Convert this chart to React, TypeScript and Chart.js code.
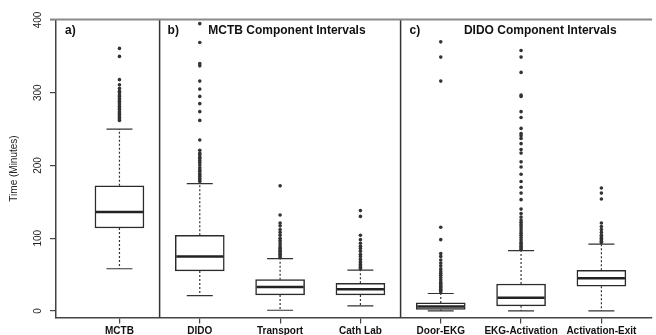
import React, { useEffect, useRef } from 'react';
import { Chart, registerables } from 'chart.js';

Chart.register(...registerables);

const categories = ['MCTB', 'DIDO', 'Transport', 'Cath Lab', 'Door-EKG', 'EKG-Activation', 'Activation-Exit'];
const whiskerLow = [58, 21, 1, 7, 0, 0, 0];
const q1 = [114, 55, 22, 22, 2, 7, 34];
const median = [136, 75, 33, 30, 6, 18, 45];
const q3 = [172, 104, 43, 38, 11, 37, 56];
const whiskerHigh = [250, 175, 72, 56, 24, 83, 92];

const outliersMCTB = [262, 264, 266, 268, 270, 272, 274, 277, 279, 281, 283, 286, 288, 290, 292, 295, 297, 300, 302, 306, 311, 318, 350, 361];
const outliersDIDO = [178, 180, 182, 185, 187, 189, 192, 194, 197, 201, 204, 207, 210, 212, 215, 217, 221, 235, 262, 274, 285, 295, 305, 316, 337, 340, 369, 395];
const outliersTransport = [74, 76, 78, 80, 82, 84, 86, 88, 91, 94, 97, 100, 104, 108, 112, 117, 121, 132, 172];
const outliersCathLab = [58, 60, 62, 64, 66, 68, 71, 75, 78, 82, 86, 89, 93, 98, 104, 130, 138];
const outliersDoorEKG = [26, 28, 30, 32, 34, 36, 38, 40, 43, 46, 49, 52, 55, 58, 62, 66, 70, 75, 79, 98, 115, 316, 349, 370];
const outliersEKGAct = [85, 87, 89, 91, 93, 95, 98, 101, 104, 107, 110, 113, 116, 119, 122, 125, 129, 134, 140, 153, 162, 170, 178, 188, 198, 205, 217, 222, 230, 237, 241, 244, 251, 266, 274, 295, 297, 328, 349, 358];
const outliersActExit = [94, 96, 98, 100, 102, 104, 108, 112, 116, 121, 154, 162, 169];
const outliers = [outliersMCTB, outliersDIDO, outliersTransport, outliersCathLab, outliersDoorEKG, outliersEKGAct, outliersActExit];

const yTicks = [0, 100, 200, 300, 400];
const yTitle = 'Time (Minutes)';
const panelLabels = ['a)', 'b)', 'c)'];
const panelTitles = ['', 'MCTB Component Intervals', 'DIDO Component Intervals'];
const dividers = [1.5, 4.5];

const FONT = "'Liberation Sans', Arial, sans-serif";

export default function App() {
  const ref = useRef<HTMLCanvasElement>(null);

  useEffect(() => {
    const canvas = ref.current;
    if (!canvas) return;
    const BOX_W = 49;
    const CAP_HALF = 13;
    const panelStarts = [0.21, dividers[0], dividers[1]];
    const labelOffsets = [9, 8, 9];
    const titleCenters = [0, 3.085, 6.239];

    const boxPlugin = {
      id: 'boxExtras',
      afterDatasetsDraw(chart: any) {
        const { ctx, chartArea, scales } = chart;
        const x = scales.x;
        const y = scales.y;
        ctx.save();
        categories.forEach((_, i) => {
          const px = x.getPixelForValue(i + 1);
          ctx.strokeStyle = '#333';
          ctx.lineWidth = 1.2;
          ctx.setLineDash([2, 2]);
          ctx.beginPath();
          ctx.moveTo(px, y.getPixelForValue(q3[i]));
          ctx.lineTo(px, y.getPixelForValue(whiskerHigh[i]));
          ctx.moveTo(px, y.getPixelForValue(q1[i]));
          ctx.lineTo(px, y.getPixelForValue(whiskerLow[i]));
          ctx.stroke();
          ctx.setLineDash([]);
          ctx.beginPath();
          const yh = y.getPixelForValue(whiskerHigh[i]);
          const yl = y.getPixelForValue(whiskerLow[i]);
          ctx.moveTo(px - CAP_HALF, yh);
          ctx.lineTo(px + CAP_HALF, yh);
          ctx.moveTo(px - CAP_HALF, yl);
          ctx.lineTo(px + CAP_HALF, yl);
          ctx.stroke();
          const ym = y.getPixelForValue(median[i]);
          ctx.strokeStyle = '#222';
          ctx.lineWidth = 2.5;
          ctx.beginPath();
          ctx.moveTo(px - BOX_W / 2 + 1, ym);
          ctx.lineTo(px + BOX_W / 2 - 1, ym);
          ctx.stroke();
        });
        // dividers
        ctx.strokeStyle = '#333';
        ctx.lineWidth = 1.5;
        dividers.forEach((d) => {
          const dx = x.getPixelForValue(d);
          ctx.beginPath();
          ctx.moveTo(dx, chartArea.top);
          ctx.lineTo(dx, chartArea.bottom);
          ctx.stroke();
        });
        // top border
        ctx.strokeStyle = '#8a8a8a';
        ctx.lineWidth = 2;
        ctx.beginPath();
        ctx.moveTo(chartArea.left - 6, chartArea.top);
        ctx.lineTo(chartArea.right, chartArea.top);
        ctx.stroke();
        // panel labels and titles
        ctx.fillStyle = '#111';
        ctx.font = `bold 12px ${FONT}`;
        ctx.textBaseline = 'middle';
        panelLabels.forEach((lab, k) => {
          ctx.textAlign = 'left';
          ctx.fillText(lab, x.getPixelForValue(panelStarts[k]) + labelOffsets[k], chartArea.top + 11);
          if (panelTitles[k]) {
            ctx.textAlign = 'center';
            ctx.fillText(panelTitles[k], x.getPixelForValue(titleCenters[k]), chartArea.top + 11);
          }
        });
        ctx.restore();
      },
    };

    const outlierPoints: { x: number; y: number }[] = [];
    outliers.forEach((arr, i) => arr.forEach((v) => outlierPoints.push({ x: i + 1, y: v })));

    const chart = new Chart(canvas, {
      type: 'bar',
      data: {
        datasets: [
          {
            type: 'bar',
            data: categories.map((_, i) => ({ x: i + 1, y: [q1[i], q3[i]] })) as any,
            backgroundColor: '#ffffff',
            borderColor: '#2b2b2b',
            borderWidth: 1.5,
            borderSkipped: false,
            barThickness: BOX_W,
          } as any,
          {
            type: 'scatter',
            data: outlierPoints,
            pointRadius: 1.8,
            pointBackgroundColor: '#333',
            pointBorderColor: '#333',
            pointBorderWidth: 0,
          } as any,
        ],
      },
      options: {
        responsive: false,
        animation: false,
        events: [],
        layout: { padding: { top: 19.5, right: 0, left: 0, bottom: 0 } },
        plugins: { legend: { display: false }, tooltip: { enabled: false } },
        scales: {
          x: {
            type: 'linear',
            min: 0.21,
            max: 7.63,
            offset: false,
            afterBuildTicks: (s: any) => {
              s.ticks = categories.map((_, i) => ({ value: i + 1 }));
            },
            afterFit: (s: any) => {
              s.height = 17.5;
            },
            ticks: {
              autoSkip: false,
              maxRotation: 0,
              minRotation: 0,
              padding: 2,
              color: '#111',
              font: { family: FONT, size: 10, weight: 'bold' },
              callback: (v: any) => categories[Math.round(v) - 1] ?? '',
            },
            grid: { display: true, offset: false, drawOnChartArea: false, drawTicks: true, tickLength: 6, color: '#444', lineWidth: 1.2 },
            border: { display: true, color: '#444', width: 1.5 },
          },
          y: {
            type: 'linear',
            min: -9,
            max: 400.7,
            afterBuildTicks: (s: any) => {
              s.ticks = yTicks.map((v) => ({ value: v }));
            },
            afterFit: (s: any) => {
              s.width = 56;
            },
            ticks: {
              minRotation: 90,
              maxRotation: 90,
              crossAlign: 'center',
              padding: 3,
              color: '#222',
              font: { family: FONT, size: 10 },
            },
            grid: { display: true, offset: false, drawOnChartArea: false, drawTicks: true, tickLength: 6, color: '#444', lineWidth: 1.2 },
            border: { display: true, color: '#444', width: 1.5 },
            title: {
              display: true,
              text: yTitle,
              color: '#222',
              font: { family: FONT, size: 10 },
              padding: { top: 8.6, bottom: 0 },
            },
          },
        },
      } as any,
      plugins: [boxPlugin],
    });
    return () => chart.destroy();
  }, []);

  return (
    <div style={{ position: 'fixed', left: 0, top: 0, width: 656, height: 335, background: '#fff' }}>
      <canvas ref={ref} width={656} height={335} style={{ width: 656, height: 335, display: 'block' }} />
    </div>
  );
}
